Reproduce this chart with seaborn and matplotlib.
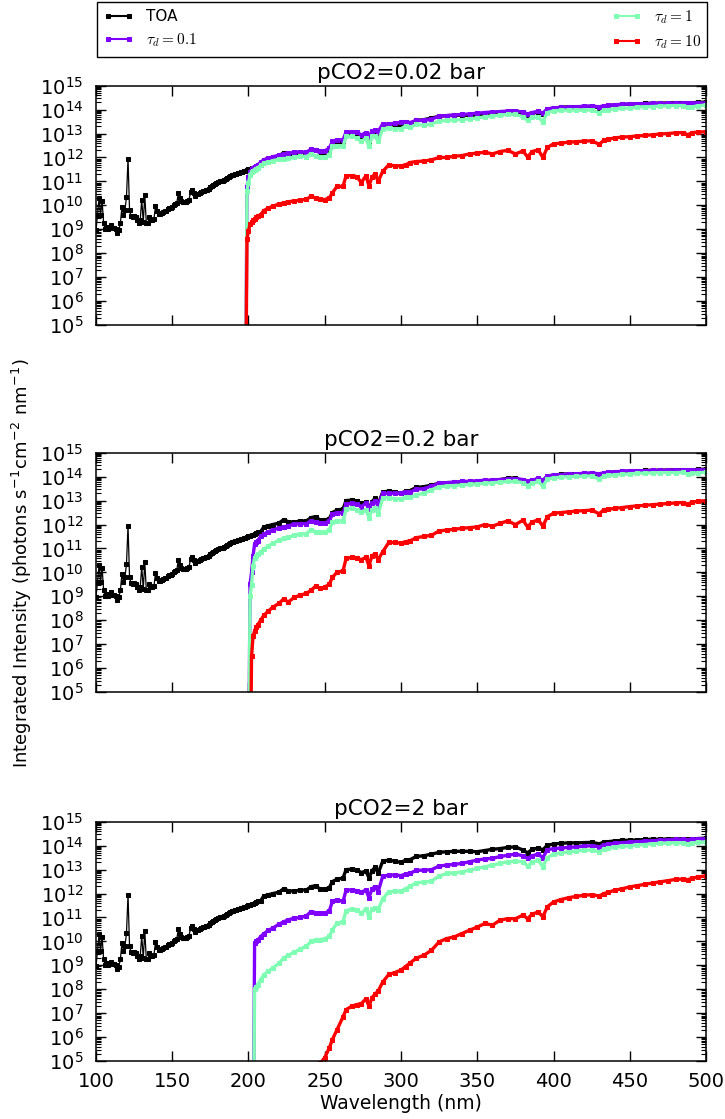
import numpy as np
import pandas as pd
import seaborn as sns
import matplotlib
matplotlib.use('Agg')
import matplotlib.pyplot as plt
from matplotlib.ticker import LogLocator, NullFormatter, FixedLocator

N = np.nan   # no data yet
LOW = 0.0    # below the axis (log10 value)

# all intensities below are log10(photons s-1 cm-2 nm-1)
wl_far = list(range(100, 198))
toa_far = [8.96, 9.6, 10.3, 9.6, 10.2, 9.25, 9.0, 9.1, 9.03, 9.1,
           9.16, 9.07, 9.06, 9.03, 8.86, 8.95, 9.25, 9.93, 9.6, 9.8,
           10.35, 11.95, 9.8, 9.55, 9.5, 9.55, 9.5, 9.38, 9.25, 9.38,
           10.24, 9.3, 10.42, 9.26, 9.25, 9.5, 9.4, 9.4, 9.42, 9.96,
           9.76, 9.63, 9.63, 9.68, 9.72, 9.75, 9.78, 9.86, 9.88, 9.9,
           9.95, 10.0, 10.05, 10.1, 10.52, 10.3, 10.2, 10.16, 10.16, 10.16,
           10.2, 10.22, 10.56, 10.63, 10.5, 10.38, 10.46, 10.48, 10.52, 10.55,
           10.6, 10.62, 10.64, 10.65, 10.7, 10.76, 10.8, 10.86, 10.9, 10.93,
           10.97, 11.0, 11.01, 11.01, 11.06, 11.11, 11.15, 11.2, 11.23, 11.27,
           11.28, 11.3, 11.33, 11.36, 11.37, 11.38, 11.4, 11.42]

wl = [198, 199, 200, 201, 202, 203, 204, 205, 206,
      208, 210, 213, 216, 220, 223, 226, 230, 234, 238,
      241, 244, 247, 250, 253, 255, 258, 262, 264, 268,
      271, 274, 277, 279, 281, 283, 285, 288, 292, 296,
      300, 303, 306, 310, 315, 320, 325, 330, 335, 340,
      345, 350, 355, 360, 365, 370, 375, 380, 383, 386,
      390, 393, 396, 400, 405, 410, 415, 420, 425, 430,
      433, 436, 440, 445, 450, 455, 460, 465, 470, 475,
      480, 485, 488, 491, 495, 500]

toa = [11.45, 11.48, 11.52, 11.53, 11.55, 11.57, 11.6, 11.64, 11.67,
       11.7, 11.9, 11.95, 12.0, 12.06, 12.2, 12.12, 12.1, 12.15, 12.15,
       12.29, 12.33, 12.18, 12.18, 12.25, 12.5, 12.6, 12.65, 13.0, 13.02,
       12.98, 12.88, 12.94, 12.66, 12.95, 13.1, 12.85, 13.35, 13.4, 13.35,
       13.3, 13.4, 13.42, 13.55, 13.58, 13.65, 13.72, 13.75, 13.76, 13.77,
       13.76, 13.75, 13.8, 13.85, 13.88, 13.93, 13.95, 13.82, 13.7, 13.85,
       13.9, 13.83, 14.02, 14.07, 14.1, 14.12, 14.12, 14.13, 14.14, 14.08,
       14.15, 14.17, 14.2, 14.22, 14.23, 14.24, 14.26, 14.27, 14.27, 14.28,
       14.29, 14.29, 14.27, 14.29, 14.3, 14.32]

# pCO2 = 0.02 bar
p002_tau01 = [LOW, 10.75, 11.17, 11.4, 11.5, 11.58, 11.62, 11.65, 11.7,
              11.8, 11.9, 11.97, 12.03, 12.1, 12.15, 12.18, 12.21, 12.24, 12.22,
              12.35, 12.3, 12.28, 12.28, 12.39, 12.67, 12.74, 12.74, 13.06, 13.08,
              13.05, 12.94, 13.04, 12.88, 13.1, 13.13, 13.08, 13.4, 13.4, 13.43,
              13.47, 13.5, 13.46, 13.55, 13.55, 13.6, 13.73, 13.75, 13.78, 13.8,
              13.82, 13.85, 13.88, 13.9, 13.92, 13.94, 13.95, 13.9, 13.82, 13.88,
              13.93, 13.85, 14.03, 14.07, 14.09, 14.1, 14.12, 14.14, 14.15, 14.12,
              14.16, 14.18, 14.2, 14.22, 14.24, 14.24, 14.25, 14.26, 14.26, 14.26,
              14.27, 14.27, 14.26, 14.27, 14.27, 14.28]
p002_tau1 = [LOW, 10.6, 10.95, 11.25, 11.4, 11.45, 11.48, 11.51, 11.55,
             11.68, 11.75, 11.8, 11.87, 11.92, 11.95, 11.97, 12.01, 12.06, 12.04,
             12.15, 12.05, 12.01, 12.01, 12.11, 12.46, 12.49, 12.46, 12.88, 12.88,
             12.81, 12.67, 12.81, 12.46, 12.88, 12.88, 12.67, 13.2, 13.22, 13.2,
             13.2, 13.32, 13.26, 13.38, 13.35, 13.4, 13.52, 13.55, 13.57, 13.58,
             13.62, 13.65, 13.7, 13.74, 13.77, 13.8, 13.8, 13.7, 13.55, 13.68,
             13.68, 13.5, 13.88, 13.95, 13.97, 13.99, 13.98, 13.97, 13.99, 13.86,
             13.99, 14.0, 14.03, 14.05, 14.07, 14.1, 14.12, 14.13, 14.15, 14.16,
             14.17, 14.17, 14.1, 14.12, 14.16, 14.2]
p002_tau10 = [LOW, 8.6, 8.94, 9.2, 9.3, 9.38, 9.42, 9.5, 9.55,
              9.61, 9.78, 9.88, 9.97, 10.05, 10.1, 10.15, 10.18, 10.22, 10.25,
              10.38, 10.3, 10.25, 10.24, 10.31, 10.52, 10.79, 10.79, 11.24, 11.24,
              11.2, 10.95, 11.24, 10.82, 11.18, 11.32, 11.0, 11.42, 11.69, 11.65,
              11.65, 11.69, 11.79, 11.83, 11.85, 11.9, 12.0, 12.0, 12.05, 12.08,
              12.15, 12.18, 12.22, 12.15, 12.25, 12.3, 12.15, 12.27, 12.02, 12.25,
              12.32, 12.0, 12.42, 12.57, 12.6, 12.64, 12.66, 12.68, 12.7, 12.55,
              12.72, 12.76, 12.82, 12.85, 12.87, 12.9, 12.92, 12.95, 12.98, 13.0,
              13.03, 13.04, 12.95, 13.04, 13.06, 13.08]

# pCO2 = 0.2 bar
p02_tau01 = [N, N, LOW, 9.5, 10.0, 10.7, 11.18, 11.26, 11.32,
             11.5, 11.6, 11.7, 11.77, 11.86, 11.9, 11.95, 12.01, 12.04, 12.04,
             12.15, 12.1, 12.07, 12.06, 12.15, 12.43, 12.5, 12.47, 12.85, 12.89,
             12.85, 12.75, 12.89, 12.64, 12.9, 12.99, 12.78, 13.3, 13.31, 13.31,
             13.3, 13.38, 13.36, 13.47, 13.5, 13.6, 13.73, 13.75, 13.77, 13.8,
             13.81, 13.83, 13.85, 13.86, 13.88, 13.9, 13.92, 13.88, 13.8, 13.85,
             13.93, 13.85, 14.02, 14.07, 14.09, 14.1, 14.12, 14.14, 14.15, 14.12,
             14.16, 14.18, 14.2, 14.22, 14.25, 14.25, 14.25, 14.26, 14.26, 14.27,
             14.28, 14.28, 14.27, 14.28, 14.28, 14.28]
p02_tau1 = [N, N, LOW, 9.0, 9.47, 10.28, 10.6, 10.7, 10.76,
            10.85, 10.97, 11.1, 11.22, 11.34, 11.42, 11.47, 11.55, 11.6, 11.62,
            11.78, 11.7, 11.67, 11.67, 11.78, 12.11, 12.15, 12.15, 12.64, 12.67,
            12.62, 12.53, 12.61, 12.29, 12.6, 12.71, 12.43, 13.1, 13.12, 13.08,
            13.06, 13.15, 13.13, 13.25, 13.3, 13.45, 13.58, 13.6, 13.63, 13.65,
            13.68, 13.7, 13.72, 13.75, 13.77, 13.8, 13.8, 13.75, 13.62, 13.72,
            13.8, 13.6, 13.9, 13.95, 13.98, 14.0, 14.01, 14.02, 14.03, 13.9,
            14.02, 14.05, 14.08, 14.1, 14.12, 14.14, 14.15, 14.16, 14.17, 14.17,
            14.17, 14.18, 14.1, 14.14, 14.17, 14.18]
p02_tau10 = [N, N, N, LOW, 6.5, 7.33, 7.55, 7.7, 7.8,
             8.0, 8.2, 8.38, 8.55, 8.7, 8.89, 8.76, 8.95, 9.05, 9.12,
             9.25, 9.42, 9.33, 9.38, 9.51, 9.79, 10.0, 10.07, 10.58, 10.63,
             10.6, 10.53, 10.63, 10.28, 10.7, 10.76, 10.53, 10.86, 11.25, 11.25,
             11.22, 11.28, 11.32, 11.45, 11.5, 11.55, 11.73, 11.77, 11.8, 11.84,
             11.87, 11.9, 12.0, 11.93, 12.05, 12.15, 12.0, 12.18, 11.9, 12.1,
             12.2, 11.93, 12.33, 12.47, 12.5, 12.53, 12.56, 12.58, 12.6, 12.45,
             12.62, 12.64, 12.67, 12.71, 12.75, 12.78, 12.8, 12.83, 12.85, 12.88,
             12.9, 12.92, 12.85, 12.94, 12.97, 13.0]

# pCO2 = 2 bar
p2_tau01 = [N, N, N, N, N, LOW, 9.93, 10.0, 10.05,
            10.2, 10.32, 10.46, 10.56, 10.72, 10.82, 10.9, 10.97, 11.0, 11.07,
            11.25, 11.2, 11.18, 11.18, 11.28, 11.67, 11.74, 11.67, 12.15, 12.15,
            12.12, 12.06, 12.15, 11.83, 12.2, 12.29, 12.08, 12.72, 12.77, 12.78,
            12.75, 12.82, 12.85, 12.97, 12.98, 13.0, 13.15, 13.19, 13.22, 13.26,
            13.33, 13.4, 13.45, 13.47, 13.55, 13.6, 13.65, 13.58, 13.47, 13.58,
            13.65, 13.5, 13.83, 13.88, 13.9, 13.93, 13.95, 13.98, 14.0, 13.95,
            14.03, 14.06, 14.1, 14.13, 14.15, 14.17, 14.19, 14.21, 14.23, 14.24,
            14.26, 14.26, 14.25, 14.27, 14.28, 14.29]
p2_tau1 = [N, N, N, N, N, LOW, 8.0, 8.1, 8.19,
           8.4, 8.6, 8.75, 8.9, 9.08, 9.3, 9.42, 9.55, 9.68, 9.8,
           10.0, 10.05, 10.08, 10.11, 10.21, 10.49, 10.76, 10.83, 11.28, 11.36,
           11.3, 11.18, 11.36, 11.04, 11.35, 11.39, 11.32, 11.78, 12.08, 12.1,
           12.1, 12.2, 12.3, 12.45, 12.48, 12.52, 12.73, 12.84, 12.87, 12.9,
           12.98, 13.05, 13.12, 13.19, 13.26, 13.33, 13.35, 13.33, 13.15, 13.3,
           13.4, 13.12, 13.5, 13.65, 13.7, 13.75, 13.78, 13.81, 13.82, 13.75,
           13.85, 13.9, 13.95, 13.97, 14.0, 14.03, 14.05, 14.08, 14.1, 14.11,
           14.12, 14.12, 14.08, 14.12, 14.14, 14.15]
p2_tau10 = [N, N, N, N, N, N, N, N, N,
            N, N, N, N, N, N, N, N, N, N,
            N, N, 4.9, 5.14, 5.55, 5.9, 6.3, 6.85, 7.15, 7.3,
            7.36, 7.4, 7.6, 7.29, 7.65, 7.8, 7.92, 8.3, 8.62, 8.7,
            8.8, 8.95, 9.1, 9.3, 9.42, 9.63, 9.98, 10.12, 10.19, 10.33,
            10.47, 10.6, 10.75, 10.68, 10.89, 10.95, 10.95, 11.1, 10.95, 11.14,
            11.23, 11.03, 11.45, 11.65, 11.75, 11.83, 11.88, 11.93, 11.95, 11.9,
            12.0, 12.05, 12.14, 12.2, 12.28, 12.33, 12.39, 12.44, 12.49, 12.54,
            12.59, 12.61, 12.58, 12.64, 12.7, 12.74]

titles = ["pCO2=0.02 bar", "pCO2=0.2 bar", "pCO2=2 bar"]
runs = [(p002_tau01, p002_tau1, p002_tau10),
        (p02_tau01, p02_tau1, p02_tau10),
        (p2_tau01, p2_tau1, p2_tau10)]
labels = ['TOA', r'$\tau_d=0.1$', r'$\tau_d=1$', r'$\tau_d=10$']
colors = ['#000000', '#8000ff', '#80feb3', '#ff0000']

sns.set_style("ticks")
plt.rcParams.update({
    'font.family': ['DejaVu Sans'],
    'mathtext.fontset': 'cm',
    'text.color': 'black',
    'axes.labelcolor': 'black',
    'axes.edgecolor': 'black',
    'axes.linewidth': 1.1,
    'xtick.color': 'black',
    'ytick.color': 'black',
})

fig = plt.figure(figsize=(7.25, 11.19), dpi=100)
bottoms = [0.7096, 0.3816, 0.0518]
axes = []
for i, (title, series) in enumerate(zip(titles, runs)):
    ax = fig.add_axes([0.1324, bottoms[i], 0.8414, 0.2138])
    axes.append(ax)
    # far-UV part of the top-of-atmosphere spectrum: thin line, spiky
    df = pd.DataFrame({'wl': wl_far + wl[:1], 'I': 10 ** np.array(toa_far + toa[:1])})
    sns.lineplot(data=df, x='wl', y='I', ax=ax, color=colors[0], label=labels[0],
                 marker='s', markersize=3.4, markeredgecolor=colors[0],
                 linewidth=0.9, sort=False, estimator=None, legend=False)
    # densely sampled part: drawn as a band like the overlapping markers
    df = pd.DataFrame({'wl': wl, 'I': 10 ** np.array(toa)})
    sns.lineplot(data=df, x='wl', y='I', ax=ax, color=colors[0],
                 marker='s', markersize=3.4, markeredgecolor=colors[0],
                 linewidth=2.4, sort=False, estimator=None, legend=False)
    for vals, lab, col in zip(series, labels[1:], colors[1:]):
        d = pd.DataFrame({'wl': wl, 'I': 10 ** np.array(vals)})
        sns.lineplot(data=d, x='wl', y='I', ax=ax, color=col, label=lab,
                     marker='s', markersize=3.4, markeredgecolor=col,
                     linewidth=2.4, sort=False, estimator=None, legend=False)
    ax.set_yscale('log')
    ax.set_xlim(100, 500)
    ax.set_ylim(1e5, 1e15)
    ax.xaxis.set_major_locator(FixedLocator(list(range(100, 501, 50))))
    ax.yaxis.set_major_locator(FixedLocator([10.0 ** k for k in range(5, 16)]))
    ax.yaxis.set_minor_locator(LogLocator(base=10, subs=np.arange(2, 10), numticks=100))
    ax.yaxis.set_minor_formatter(NullFormatter())
    ax.tick_params(which='both', direction='in', top=True, right=True, labelsize=14)
    ax.tick_params(which='major', length=7, width=1, pad=9)
    ax.tick_params(which='minor', length=3.5, width=0.8)
    ax.tick_params(axis='x', which='major', pad=8)
    ax.set_title(title, fontsize=15.5, pad=5)
    ax.set_xlabel('')
    ax.set_ylabel('')
    if i < 2:
        ax.tick_params(labelbottom=False)

axes[2].set_xlabel('Wavelength (nm)', fontsize=13.5, labelpad=2)
fig.text(0.03, 0.497,
         r'Integrated Intensity (photons s$^{\mathdefault{-1}}$cm$^{\mathdefault{-2}}$ nm$^{\mathdefault{-1}}$)',
         rotation=90, va='center', ha='center', fontsize=13)

handles, labs = axes[0].get_legend_handles_labels()
leg = fig.legend(handles, labs, loc='upper left',
                 bbox_to_anchor=(0.1338, 1 - 52 / 1119, 0.8414, 50 / 1119),
                 mode='expand', ncol=2, fontsize=11, numpoints=2, handlelength=2,
                 borderaxespad=0, fancybox=False, edgecolor='black', framealpha=1)
for h in leg.get_lines():
    h.set_linewidth(1.5)

fig.savefig('out.png', dpi=100)
